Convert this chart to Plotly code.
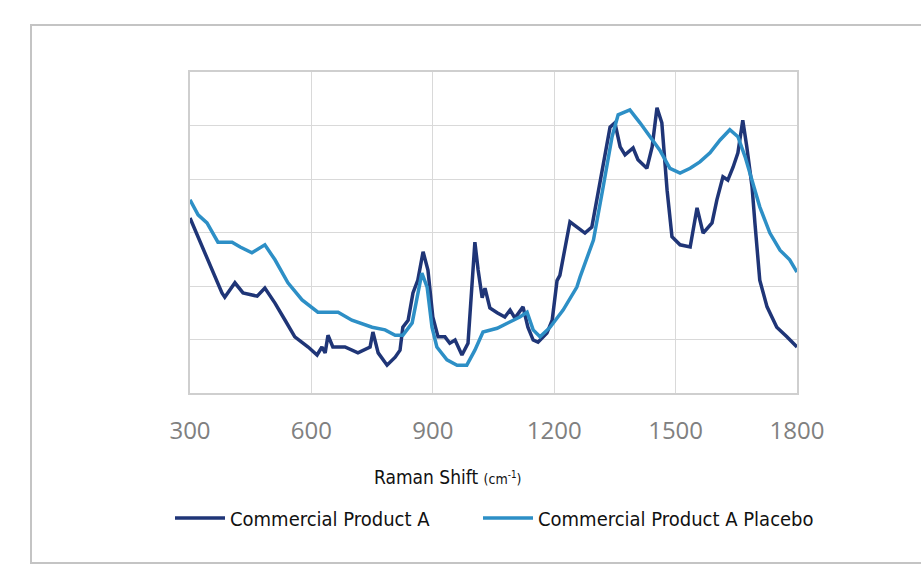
import plotly.graph_objects as go

# Raman shift (cm-1) and relative intensity for each spectrum
shift_a = [300, 337, 379, 386, 411, 431, 466, 485, 510, 535, 559, 592, 614, 626, 634, 641,
           653, 683, 715, 745, 752, 765, 787, 807, 819, 826, 839, 851, 863, 876, 888, 900,
           913, 930, 942, 955, 972, 987, 997, 1004, 1012, 1022, 1029, 1041, 1059, 1078,
           1091, 1103, 1123, 1135, 1148, 1160, 1182, 1195, 1207, 1214, 1239, 1276, 1293,
           1318, 1338, 1350, 1363, 1375, 1395, 1407, 1429, 1442, 1454, 1466, 1479, 1491,
           1511, 1536, 1553, 1568, 1590, 1602, 1617, 1629, 1642, 1654, 1666, 1676, 1689,
           1696, 1708, 1726, 1750, 1775, 1800]
product_a = [3.27, 2.62, 1.87, 1.79, 2.06, 1.87, 1.81, 1.96, 1.68, 1.36, 1.05, 0.86, 0.71,
             0.86, 0.75, 1.08, 0.86, 0.86, 0.75, 0.86, 1.14, 0.75, 0.52, 0.67, 0.80, 1.23,
             1.36, 1.87, 2.11, 2.64, 2.30, 1.42, 1.05, 1.05, 0.93, 0.99, 0.71, 0.93, 1.98,
             2.82, 2.30, 1.78, 1.96, 1.59, 1.50, 1.42, 1.55, 1.40, 1.61, 1.23, 0.99, 0.95,
             1.12, 1.36, 2.10, 2.20, 3.20, 2.99, 3.10, 4.11, 4.97, 5.05, 4.60, 4.45, 4.58,
             4.36, 4.20, 4.60, 5.33, 5.05, 3.79, 2.92, 2.77, 2.73, 3.46, 2.99, 3.18, 3.61,
             4.04, 3.98, 4.22, 4.49, 5.10, 4.60, 3.85, 3.18, 2.11, 1.61, 1.23, 1.05, 0.86]

shift_p = [300, 320, 342, 369, 404, 424, 453, 485, 510, 542, 577, 616, 666, 700, 750, 782,
           807, 826, 849, 861, 873, 886, 898, 910, 935, 960, 984, 1004, 1024, 1059, 1091,
           1115, 1133, 1148, 1165, 1190, 1222, 1256, 1264, 1297, 1321, 1343, 1358, 1370,
           1387, 1412, 1437, 1461, 1486, 1511, 1536, 1560, 1585, 1610, 1634, 1654, 1672,
           1691, 1708, 1733, 1758, 1782, 1800]
placebo = [3.61, 3.33, 3.18, 2.82, 2.82, 2.73, 2.62, 2.77, 2.49, 2.06, 1.74, 1.51, 1.51,
           1.36, 1.23, 1.18, 1.08, 1.08, 1.31, 1.74, 2.24, 1.98, 1.23, 0.86, 0.62, 0.52,
           0.52, 0.80, 1.14, 1.21, 1.33, 1.42, 1.51, 1.18, 1.05, 1.23, 1.55, 1.98, 2.17,
           2.86, 3.85, 4.79, 5.20, 5.23, 5.29, 5.05, 4.79, 4.54, 4.20, 4.11, 4.20, 4.32,
           4.49, 4.73, 4.92, 4.79, 4.41, 3.93, 3.48, 2.99, 2.67, 2.49, 2.26]

x_ticks = [300, 600, 900, 1200, 1500, 1800]

W, H = 921, 583
L, R, T, B = 190, 797, 72, 393  # plot area in pixels
pw, ph = R - L, B - T


def px(x):
    return (x - L) / pw


def py(y):
    return (B - y) / ph


narrow = "DejaVu Sans Condensed, Liberation Sans Narrow, sans-serif"
legend_font = dict(family=narrow, size=20, color="#111111")

fig = go.Figure()
fig.add_trace(go.Scatter(x=shift_a, y=product_a, mode="lines", name="Commercial Product A",
                         line=dict(color="#1f3577", width=3.5), legend="legend"))
fig.add_trace(go.Scatter(x=shift_p, y=placebo, mode="lines", name="Commercial Product A Placebo",
                         line=dict(color="#2d8fc6", width=3.5), legend="legend2"))

fig.update_layout(
    width=W, height=H,
    margin=dict(l=L, r=W - R, t=T, b=H - B),
    paper_bgcolor="white", plot_bgcolor="white",
    showlegend=True,
    legend=dict(x=px(170), y=py(518), xanchor="left", yanchor="middle",
                font=legend_font, itemwidth=50, bgcolor="rgba(0,0,0,0)"),
    legend2=dict(x=px(478), y=py(518), xanchor="left", yanchor="middle",
                 font=legend_font, itemwidth=50, bgcolor="rgba(0,0,0,0)"),
    xaxis=dict(range=[300, 1800], tickvals=x_ticks, ticktext=[str(v) for v in x_ticks],
               showgrid=True, gridcolor="#d9d9d9", gridwidth=1,
               showline=True, linecolor="#cfcfcf", linewidth=1.5, mirror=True,
               zeroline=False, ticks="", ticklabelstandoff=15,
               tickfont=dict(family="Open Sans, sans-serif", size=24, color="#808080")),
    yaxis=dict(range=[0, 6], dtick=1, showticklabels=False,
               showgrid=True, gridcolor="#d9d9d9", gridwidth=1,
               showline=True, linecolor="#cfcfcf", linewidth=1.5, mirror=True,
               zeroline=False, ticks=""),
    annotations=[
        dict(xref="paper", yref="paper", x=px(372), y=py(477), xanchor="left", yanchor="middle",
             showarrow=False,
             text="Raman Shift <span style='font-size:14px'>(cm<sup>-1</sup>)</span>",
             font=dict(family=narrow, size=19, color="#111111")),
    ],
    shapes=[
        dict(type="rect", xref="paper", yref="paper",
             x0=px(31), x1=px(940), y0=py(563), y1=py(25),
             line=dict(color="#c4c4c4", width=2), fillcolor="rgba(0,0,0,0)", layer="below"),
    ],
)

fig.write_html("out.html")
